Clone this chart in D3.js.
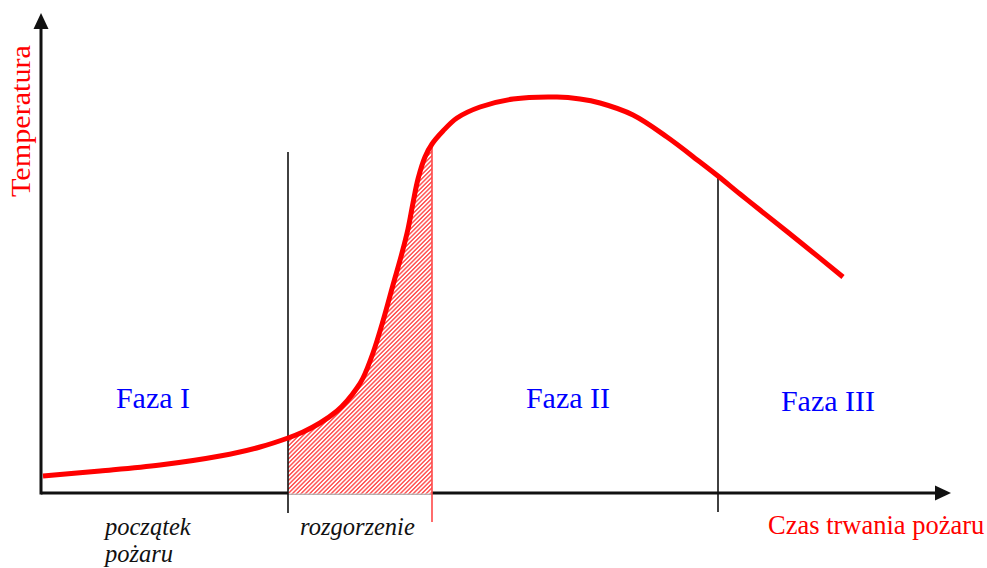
<!DOCTYPE html>
<html>
<head>
<meta charset="utf-8">
<script src="https://cdn.jsdelivr.net/npm/d3@7"></script>
<style>
  body { margin: 0; background: #fff; }
  text { font-family: "Liberation Serif", "Times New Roman", serif; }
</style>
</head>
<body>
<div id="chart"></div>
<script>
/* Fazy pożaru - krzywa temperatury w czasie */

// time and temperature, arbitrary units
const czas = [2, 59, 119, 179, 219, 247, 262, 279, 296, 306, 316, 322, 332, 342, 352, 361, 367, 372, 377, 384, 391, 402, 416, 439, 472, 516, 539, 559, 592, 626, 659, 677, 699, 719, 759, 802];
const temperatura = [17, 22, 28, 37, 46, 55, 61, 70, 82, 92, 105, 115, 140, 172, 208, 240, 264, 290, 314, 336, 349, 362, 375, 386, 394, 396, 394, 390, 378, 356, 331, 317, 299, 283, 251, 216];

const granice = [247, 391, 677]; // start of rozgorzenie, end of rozgorzenie, end of Faza II
const fazy = ["Faza I", "Faza II", "Faza III"];
const opisyOsi = ["Temperatura", "Czas trwania pożaru"];
const opisyDolne = ["początek", "pożaru", "rozgorzenie"];

const data = czas.map((t, i) => ({ t: t, temp: temperatura[i] }));

const width = 987,
      height = 568;

let svg = d3.select("#chart")
    .append("svg")
    .attr("width", width)
    .attr("height", height);

let x = d3.scaleLinear()
    .domain([0, 910])
    .range([41, 951]);

let y = d3.scaleLinear()
    .domain([0, 480])
    .range([493, 13]);

// hatch pattern for the flashover zone
let defs = svg.append("defs");
let pat = defs.append("pattern")
    .attr("id", "hatch")
    .attr("patternUnits", "userSpaceOnUse")
    .attr("width", 3.05)
    .attr("height", 3.05)
    .attr("patternTransform", "rotate(45)");
pat.append("rect")
    .attr("width", 3.05).attr("height", 3.05)
    .attr("fill", "#fff");
pat.append("line")
    .attr("x1", 0.75).attr("y1", 0)
    .attr("x2", 0.75).attr("y2", 3.05)
    .attr("stroke", "#ff5656")
    .attr("stroke-width", 1.5);

defs.append("clipPath")
    .attr("id", "clip-rozg")
    .append("rect")
    .attr("x", x(granice[0]))
    .attr("y", 0)
    .attr("width", x(granice[1]) - x(granice[0]))
    .attr("height", y(0) + 1.6);

const curve = d3.curveCatmullRom.alpha(0.5);

// axes with arrow heads
const x0 = x.range()[0], x1 = x.range()[1];
const y0 = y.range()[0], y1 = y.range()[1];

svg.append("line")
    .attr("x1", x0).attr("y1", y0)
    .attr("x2", x1 - 12).attr("y2", y0)
    .attr("stroke", "#111").attr("stroke-width", 3);
svg.append("path")
    .attr("d", `M${x1},${y0} L${x1 - 16},${y0 - 7.5} L${x1 - 16},${y0 + 7.5} Z`)
    .attr("fill", "#111");

svg.append("line")
    .attr("x1", x0).attr("y1", y0 + 1.5)
    .attr("x2", x0).attr("y2", y1 + 12)
    .attr("stroke", "#111").attr("stroke-width", 3);
svg.append("path")
    .attr("d", `M${x0},${y1} L${x0 - 7.5},${y1 + 16} L${x0 + 7.5},${y1 + 16} Z`)
    .attr("fill", "#111");

// hatched area drawn over the axis, like in the original
let area = d3.area()
    .x(d => x(d.t))
    .y0(y(0) + 1.6)
    .y1(d => y(d.temp))
    .curve(curve);

svg.append("path")
    .datum(data)
    .attr("d", area)
    .attr("fill", "url(#hatch)")
    .attr("clip-path", "url(#clip-rozg)");

svg.append("line")
    .attr("x1", x(granice[0])).attr("x2", x(granice[1]))
    .attr("y1", y0 + 1).attr("y2", y0 + 1)
    .attr("stroke", "#ccc").attr("stroke-width", 1);

// phase boundaries
const tempAt = t => temperatura[czas.indexOf(t)];

svg.append("line")
    .attr("x1", x(granice[0])).attr("x2", x(granice[0]))
    .attr("y1", y(341)).attr("y2", y0 + 20)
    .attr("stroke", "#111").attr("stroke-width", 1.6);

svg.append("line")
    .attr("x1", x(granice[1])).attr("x2", x(granice[1]))
    .attr("y1", y(tempAt(granice[1]))).attr("y2", y0 + 29)
    .attr("stroke", "#ff4848").attr("stroke-width", 1.6);

svg.append("line")
    .attr("x1", x(granice[2])).attr("x2", x(granice[2]))
    .attr("y1", y(tempAt(granice[2]))).attr("y2", y0 + 19)
    .attr("stroke", "#111").attr("stroke-width", 1.6);

// temperature curve
let line = d3.line()
    .x(d => x(d.t))
    .y(d => y(d.temp))
    .curve(curve);

svg.append("path")
    .datum(data)
    .attr("d", line)
    .attr("fill", "none")
    .attr("stroke", "#ff0000")
    .attr("stroke-width", 5)
    .attr("stroke-linejoin", "round");

// phase labels
const fazaX = [112, 527, 787];
const fazaY = [85, 85, 82];
svg.selectAll(".faza")
    .data(fazy)
    .join("text")
    .attr("class", "faza")
    .attr("x", (d, i) => x(fazaX[i]))
    .attr("y", (d, i) => y(fazaY[i]))
    .attr("text-anchor", "middle")
    .attr("font-size", 30)
    .attr("fill", "#0000ff")
    .text(d => d);

// axis titles
svg.append("text")
    .attr("transform", "translate(30,121) rotate(-90)")
    .attr("text-anchor", "middle")
    .attr("font-size", 27)
    .attr("textLength", 152)
    .attr("lengthAdjust", "spacingAndGlyphs")
    .attr("fill", "#ff0000")
    .text(opisyOsi[0]);

svg.append("text")
    .attr("x", 768)
    .attr("y", 534)
    .attr("font-size", 26.5)
    .attr("fill", "#ff0000")
    .text(opisyOsi[1]);

// italic notes under the axis
svg.append("text")
    .attr("x", 105).attr("y", 535)
    .attr("font-size", 24.5).attr("font-style", "italic")
    .attr("fill", "#111")
    .text(opisyDolne[0]);
svg.append("text")
    .attr("x", 105).attr("y", 562)
    .attr("font-size", 24.5).attr("font-style", "italic")
    .attr("fill", "#111")
    .text(opisyDolne[1]);
svg.append("text")
    .attr("x", 300).attr("y", 535)
    .attr("font-size", 24.5).attr("font-style", "italic")
    .attr("fill", "#111")
    .text(opisyDolne[2]);
</script>
</body>
</html>
